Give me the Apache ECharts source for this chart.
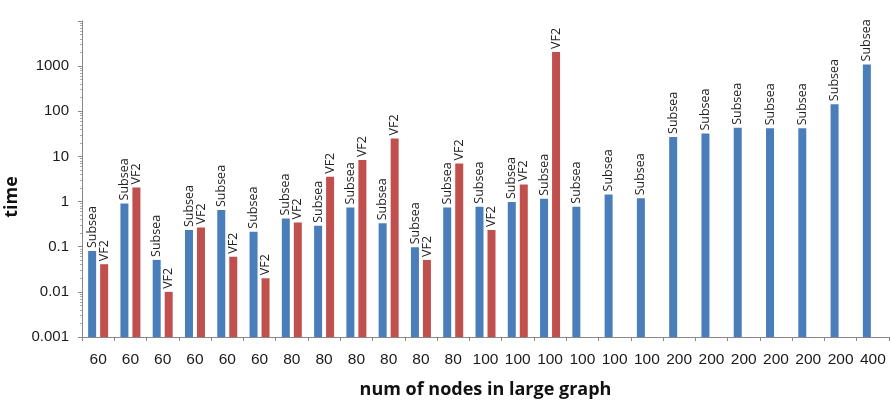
<!DOCTYPE html>
<html>
<head>
<meta charset="utf-8">
<script src="https://cdn.jsdelivr.net/npm/echarts@6/dist/echarts.min.js"></script>
<style>html,body{margin:0;padding:0;background:#fff}#c{width:892px;height:406px}</style>
</head>
<body>
<div id="c"></div>
<script>
const categories = ['60','60','60','60','60','60','80','80','80','80','80','80','100','100','100','100','100','100','200','200','200','200','200','200','400'];
const subsea = [0.08,0.91,0.051,0.234,0.65,0.215,0.42,0.29,0.74,0.33,0.097,0.74,0.77,0.975,1.15,0.77,1.44,1.18,27,32,43,42,42,144,1090];
const vf2 = [0.041,2.06,0.01,0.268,0.06,0.02,0.346,3.54,8.3,25,0.051,7.0,0.234,2.4,2070,null,null,null,null,null,null,null,null,null,null];
const yTicks = [0.001,0.01,0.1,1,10,100,1000];

const chart = echarts.init(document.getElementById('c'));
const labelCfg = (txt) => ({
  show: true, position: 'top', rotate: 90, align: 'left', verticalAlign: 'middle',
  distance: 3, formatter: txt, color: '#222', fontSize: 12.5, fontFamily: 'Open Sans'
});
chart.setOption({
  animation: false,
  grid: {left: 82, right: 3, top: 21, bottom: 69, containLabel: false, outerBoundsMode: 'none'},
  xAxis: {
    type: 'category', data: categories,
    name: 'num of nodes in large graph', nameLocation: 'middle', nameGap: 44,
    nameTextStyle: {fontSize: 18, fontWeight: 'bold', color: '#111', fontFamily: 'Open Sans'},
    axisLine: {lineStyle: {color: '#888'}},
    axisTick: {show: true, length: 4, lineStyle: {color: '#888'}},
    axisLabel: {color: '#1a1a1a', fontSize: 15.5, fontFamily: 'Liberation Sans', margin: 15, interval: 0}
  },
  yAxis: {
    type: 'log', logBase: 10, min: 0.001, max: 10000, startValue: 0.001,
    name: 'time', nameLocation: 'middle', nameGap: 50,
    nameTextStyle: {fontSize: 18, fontWeight: 'bold', color: '#111', fontFamily: 'Open Sans', padding: [0, 36, 0, 0]},
    axisLine: {show: true, lineStyle: {color: '#888'}},
    axisTick: {show: true, length: 4, lineStyle: {color: '#888'}},
    minorTick: {show: true, splitNumber: 9, length: 2, lineStyle: {color: '#aaa'}},
    splitLine: {show: false},
    axisLabel: {
      color: '#1a1a1a', fontSize: 15, fontFamily: 'Liberation Sans', margin: 13,
      formatter: function (v) {
        const n = Number(Number(v).toPrecision(1));
        return yTicks.indexOf(n) >= 0 ? String(n) : '';
      }
    }
  },
  series: [
    {type: 'bar', name: 'Subsea', data: subsea, barWidth: 8, barGap: '50%',
     itemStyle: {color: '#4A7EBB'}, label: labelCfg('Subsea')},
    {type: 'bar', name: 'VF2', data: vf2, barWidth: 8, barGap: '50%',
     itemStyle: {color: '#C0504D'}, label: labelCfg('VF2')}
  ]
});
</script>
</body>
</html>
